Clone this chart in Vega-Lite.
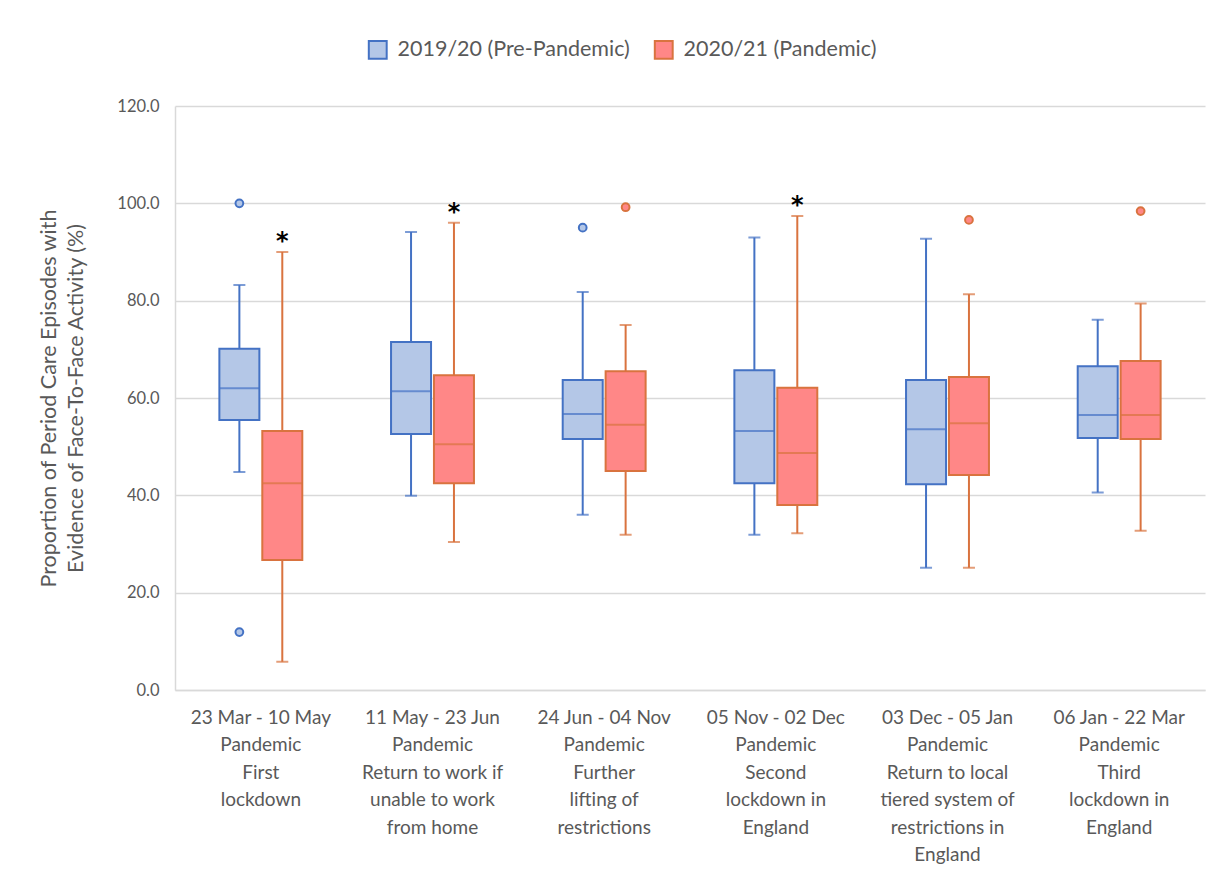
{
  "$schema": "https://vega.github.io/schema/vega-lite/v6.json",
  "width": 1030,
  "height": 584,
  "autosize": {"type": "none"},
  "padding": {"left": 175, "top": 106, "right": 19, "bottom": 179},
  "background": "white",
  "config": {
    "view": {"stroke": null},
    "font": "Lato",
    "axis": {"labelFont": "Lato", "titleFont": "Lato"},
    "legend": {"labelFont": "Lato"}
  },
  "datasets": {
    "boxes": [
      {"cat": "23 Mar - 10 May\nPandemic\nFirst\nlockdown", "series": "2019/20 (Pre-Pandemic)", "min": 44.8, "q1": 55.5, "median": 62.0, "q3": 70.1, "max": 83.2, "sig": ""},
      {"cat": "23 Mar - 10 May\nPandemic\nFirst\nlockdown", "series": "2020/21 (Pandemic)", "min": 5.8, "q1": 26.7, "median": 42.5, "q3": 53.2, "max": 90.0, "sig": "*"},
      {"cat": "11 May - 23 Jun\nPandemic\nReturn to work if\nunable to work\nfrom home", "series": "2019/20 (Pre-Pandemic)", "min": 39.9, "q1": 52.6, "median": 61.4, "q3": 71.5, "max": 94.1, "sig": ""},
      {"cat": "11 May - 23 Jun\nPandemic\nReturn to work if\nunable to work\nfrom home", "series": "2020/21 (Pandemic)", "min": 30.4, "q1": 42.5, "median": 50.5, "q3": 64.7, "max": 96.0, "sig": "*"},
      {"cat": "24 Jun - 04 Nov\nPandemic\nFurther\nlifting of\nrestrictions", "series": "2019/20 (Pre-Pandemic)", "min": 36.0, "q1": 51.6, "median": 56.7, "q3": 63.7, "max": 81.8, "sig": ""},
      {"cat": "24 Jun - 04 Nov\nPandemic\nFurther\nlifting of\nrestrictions", "series": "2020/21 (Pandemic)", "min": 31.9, "q1": 45.0, "median": 54.5, "q3": 65.5, "max": 75.0, "sig": ""},
      {"cat": "05 Nov - 02 Dec\nPandemic\nSecond\nlockdown in\nEngland", "series": "2019/20 (Pre-Pandemic)", "min": 31.9, "q1": 42.5, "median": 53.2, "q3": 65.7, "max": 93.0, "sig": ""},
      {"cat": "05 Nov - 02 Dec\nPandemic\nSecond\nlockdown in\nEngland", "series": "2020/21 (Pandemic)", "min": 32.2, "q1": 38.0, "median": 48.7, "q3": 62.1, "max": 97.4, "sig": "*"},
      {"cat": "03 Dec - 05 Jan\nPandemic\nReturn to local\ntiered system of\nrestrictions in\nEngland", "series": "2019/20 (Pre-Pandemic)", "min": 25.1, "q1": 42.3, "median": 53.6, "q3": 63.7, "max": 92.7, "sig": ""},
      {"cat": "03 Dec - 05 Jan\nPandemic\nReturn to local\ntiered system of\nrestrictions in\nEngland", "series": "2020/21 (Pandemic)", "min": 25.1, "q1": 44.2, "median": 54.8, "q3": 64.3, "max": 81.3, "sig": ""},
      {"cat": "06 Jan - 22 Mar\nPandemic\nThird\nlockdown in\nEngland", "series": "2019/20 (Pre-Pandemic)", "min": 40.6, "q1": 51.8, "median": 56.5, "q3": 66.5, "max": 76.1, "sig": ""},
      {"cat": "06 Jan - 22 Mar\nPandemic\nThird\nlockdown in\nEngland", "series": "2020/21 (Pandemic)", "min": 32.7, "q1": 51.6, "median": 56.5, "q3": 67.6, "max": 79.4, "sig": ""}
    ],
    "outliers": [
      {"cat": "23 Mar - 10 May\nPandemic\nFirst\nlockdown", "series": "2019/20 (Pre-Pandemic)", "value": 100.0},
      {"cat": "23 Mar - 10 May\nPandemic\nFirst\nlockdown", "series": "2019/20 (Pre-Pandemic)", "value": 11.9},
      {"cat": "24 Jun - 04 Nov\nPandemic\nFurther\nlifting of\nrestrictions", "series": "2019/20 (Pre-Pandemic)", "value": 95.0},
      {"cat": "24 Jun - 04 Nov\nPandemic\nFurther\nlifting of\nrestrictions", "series": "2020/21 (Pandemic)", "value": 99.2},
      {"cat": "03 Dec - 05 Jan\nPandemic\nReturn to local\ntiered system of\nrestrictions in\nEngland", "series": "2020/21 (Pandemic)", "value": 96.6},
      {"cat": "06 Jan - 22 Mar\nPandemic\nThird\nlockdown in\nEngland", "series": "2020/21 (Pandemic)", "value": 98.4}
    ]
  },
  "encoding": {
    "x": {
      "field": "cat", "type": "nominal", "sort": null,
      "scale": {"paddingInner": 0, "paddingOuter": 0},
      "axis": {
        "title": null, "labelAngle": 0, "ticks": false, "grid": false,
        "domainColor": "#D9D9D9", "domainWidth": 1.5,
        "labelExpr": "split(datum.value, '\\n')",
        "labelFontSize": 19, "labelColor": "#595959",
        "labelLineHeight": 27.5, "labelPadding": 18, "labelLimit": 0
      }
    },
    "xOffset": {
      "field": "series", "type": "nominal", "sort": null,
      "scale": {"paddingInner": 0, "paddingOuter": 1}
    }
  },
  "layer": [
    {
      "data": {"name": "boxes"},
      "mark": {"type": "rule", "strokeWidth": 2},
      "encoding": {
        "y": {
          "field": "min", "type": "quantitative",
          "scale": {"domain": [0, 120]},
          "axis": {
            "values": [0, 20, 40, 60, 80, 100, 120], "format": ".1f",
            "ticks": false, "grid": true, "gridColor": "#D9D9D9", "gridWidth": 1.5,
            "domainColor": "#D9D9D9", "domainWidth": 1.5,
            "labelFontSize": 16.5, "labelColor": "#595959", "labelPadding": 16,
            "title": ["Proportion of Period Care Episodes with", "Evidence of Face-To-Face Activity (%)"],
            "titleFontSize": 21.5, "titleFontWeight": "normal", "titleColor": "#595959",
            "titleLineHeight": 27, "titlePadding": 29
          }
        },
        "y2": {"field": "max"},
        "stroke": {
          "field": "series", "type": "nominal",
          "scale": {"domain": ["2019/20 (Pre-Pandemic)", "2020/21 (Pandemic)"], "range": ["#4472C4", "#D9733F"]}
        }
      }
    },
    {
      "data": {"name": "boxes"},
      "mark": {"type": "tick", "orient": "horizontal", "size": 12, "thickness": 0, "filled": false, "strokeWidth": 2},
      "encoding": {
        "y": {"field": "min", "type": "quantitative"},
        "stroke": {"field": "series", "type": "nominal"}
      }
    },
    {
      "data": {"name": "boxes"},
      "mark": {"type": "tick", "orient": "horizontal", "size": 12, "thickness": 0, "filled": false, "strokeWidth": 2},
      "encoding": {
        "y": {"field": "max", "type": "quantitative"},
        "stroke": {"field": "series", "type": "nominal"}
      }
    },
    {
      "data": {"name": "boxes"},
      "mark": {"type": "bar", "width": 40, "strokeWidth": 2, "opacity": 1},
      "encoding": {
        "y": {"field": "q1", "type": "quantitative"},
        "y2": {"field": "q3"},
        "fill": {
          "field": "series", "type": "nominal",
          "scale": {"domain": ["2019/20 (Pre-Pandemic)", "2020/21 (Pandemic)"], "range": ["#B4C7E7", "#FF8787"]},
          "legend": {
            "title": null, "orient": "none", "direction": "horizontal",
            "legendX": 192, "legendY": -67,
            "symbolType": "square", "symbolSize": 320, "symbolStrokeWidth": 2,
            "symbolOpacity": 1, "labelLimit": 400,
            "labelFontSize": 21.5, "labelColor": "#595959", "columnPadding": 20,
            "labelOffset": 9,
            "encode": {"symbols": {"update": {"opacity": {"value": 1}, "fillOpacity": {"value": 1}}}}
          }
        },
        "stroke": {"field": "series", "type": "nominal"}
      }
    },
    {
      "data": {"name": "boxes"},
      "mark": {"type": "tick", "orient": "horizontal", "size": 40, "thickness": 0, "filled": false, "strokeWidth": 2},
      "encoding": {
        "y": {"field": "median", "type": "quantitative"},
        "stroke": {"field": "series", "type": "nominal"}
      }
    },
    {
      "data": {"name": "outliers"},
      "mark": {"type": "point", "filled": false, "size": 60, "strokeWidth": 2, "opacity": 1},
      "encoding": {
        "y": {"field": "value", "type": "quantitative"},
        "fill": {"field": "series", "type": "nominal"},
        "stroke": {"field": "series", "type": "nominal"}
      }
    },
    {
      "data": {"name": "boxes"},
      "mark": {"type": "text", "dy": -10, "font": "DejaVu Sans", "fontSize": 24, "fontWeight": "bold", "color": "black", "baseline": "middle"},
      "encoding": {
        "y": {"field": "max", "type": "quantitative"},
        "text": {"field": "sig"}
      }
    }
  ],
  "resolve": {"scale": {"fill": "shared", "stroke": "shared"}}
}
